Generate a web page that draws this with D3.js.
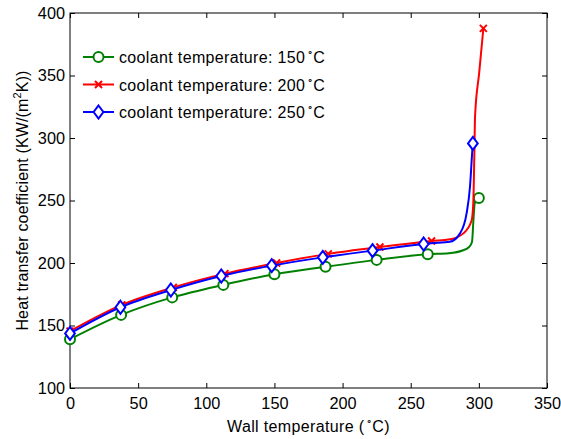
<!DOCTYPE html>
<html>
<head>
<meta charset="utf-8">
<script src="https://cdn.jsdelivr.net/npm/d3@7"></script>
<style>
  body { margin: 0; background: #fff; }
  svg { display: block; font-family: "Liberation Sans", Arial, Helvetica, sans-serif; }
</style>
</head>
<body>
<svg id="chart" width="561" height="439"></svg>
<script>
// ---- data ----
const xTicks = [0, 50, 100, 150, 200, 250, 300, 350];
const yTicks = [100, 150, 200, 250, 300, 350, 400];

const seriesNames = ["coolant temperature: 150", "coolant temperature: 200", "coolant temperature: 250"];
const seriesColors = ["#008000", "#ff0000", "#0000ff"];
const seriesMarkers = ["circle", "cross", "diamond"];

// line (curve) points
const greenLineX = [0, 37.5, 75, 112.5, 150, 187.5, 225, 262.5, 278, 288, 293, 295, 296, 297, 300];
const greenLineY = [139, 158.5, 172.5, 182.5, 191, 197, 202.5, 207, 207.8, 210, 213, 217, 234, 248, 252];
const redLineX = [0, 37.9, 75.8, 113.7, 151.6, 189.5, 227.4, 265.3, 279, 288.6, 294.7, 295.9, 296.7, 297.2, 300.25, 303.3];
const redLineY = [145.5, 166.5, 180.5, 191.5, 200, 207.3, 212.8, 217.6, 219, 223.7, 234, 247.7, 287.7, 317, 352.3, 387.7];
const blueLineX = [0, 37, 74, 111, 148, 185.5, 222, 259.5, 265, 278.8, 286.2, 291, 293.5, 295.2, 295.6];
const blueLineY = [143.7, 164.6, 178.4, 189.6, 197.9, 204.5, 209.9, 215.2, 215.8, 217, 223.7, 239.7, 261, 290, 295.7];

// marker points
const greenMarkX = [0, 37.5, 75, 112.5, 150, 187.5, 225, 262.5, 300];
const greenMarkY = [139, 158.5, 172.5, 182.5, 191, 197, 202.5, 207, 252];
const redMarkX = [0, 37.9, 75.8, 113.7, 151.6, 189.5, 227.4, 265.3, 303.3];
const redMarkY = [145.5, 166.5, 180.5, 191.5, 200, 207.3, 212.8, 217.6, 387.7];
const blueMarkX = [0, 37, 74, 111, 148, 185.5, 222, 259.5, 295.6];
const blueMarkY = [143.7, 164.6, 178.4, 189.6, 197.9, 204.5, 209.9, 215.2, 295.7];

// ---- layout ----
const svg = d3.select("#chart");
const m = { left: 70, top: 13, right: 547, bottom: 388 };
const x = d3.scaleLinear().domain([0, 350]).range([m.left, m.right]);
const y = d3.scaleLinear().domain([100, 400]).range([m.bottom, m.top]);
const FS = 16.3;

const zip = (xs, ys) => xs.map((v, i) => [v, ys[i]]);
const series = [
  { line: zip(greenLineX, greenLineY), marks: zip(greenMarkX, greenMarkY) },
  { line: zip(redLineX, redLineY), marks: zip(redMarkX, redMarkY) },
  { line: zip(blueLineX, blueLineY), marks: zip(blueMarkX, blueMarkY) }
];

// axes box
svg.append("rect")
  .attr("x", m.left).attr("y", m.top)
  .attr("width", m.right - m.left).attr("height", m.bottom - m.top)
  .attr("fill", "#fff").attr("stroke", "#000").attr("stroke-width", 1);

function styleAxis(g, showLabels) {
  g.select(".domain").remove();
  g.selectAll(".tick line").attr("stroke", "#000");
  g.selectAll(".tick text").attr("font-size", FS).attr("fill", "#000")
    .attr("font-family", "Liberation Sans, Arial, sans-serif");
  if (!showLabels) g.selectAll(".tick text").remove();
}

svg.append("g").attr("transform", `translate(0,${m.bottom})`)
  .call(d3.axisBottom(x).tickValues(xTicks).tickSize(-5).tickPadding(9))
  .call(g => styleAxis(g, true));
svg.append("g").attr("transform", `translate(0,${m.top})`)
  .call(d3.axisTop(x).tickValues(xTicks).tickSize(-5))
  .call(g => styleAxis(g, false));
svg.append("g").attr("transform", `translate(${m.left},0)`)
  .call(d3.axisLeft(y).tickValues(yTicks).tickSize(-5).tickPadding(5))
  .call(g => styleAxis(g, true));
svg.append("g").attr("transform", `translate(${m.right},0)`)
  .call(d3.axisRight(y).tickValues(yTicks).tickSize(-5))
  .call(g => styleAxis(g, false));

// lines
const lineGen = d3.line().x(d => x(d[0])).y(d => y(d[1])).curve(d3.curveMonotoneX);

function drawMarker(g, type, cx, cy, color) {
  if (type === "circle") {
    g.append("circle").attr("cx", cx).attr("cy", cy).attr("r", 5)
      .attr("fill", "#fff").attr("stroke", color).attr("stroke-width", 2);
  } else if (type === "diamond") {
    const s = 6.5;
    g.append("path")
      .attr("d", `M${cx},${cy - s}L${cx + s * 0.75},${cy}L${cx},${cy + s}L${cx - s * 0.75},${cy}Z`)
      .attr("fill", "#fff").attr("stroke", color).attr("stroke-width", 2);
  } else {
    const s = 3.5;
    g.append("path")
      .attr("d", `M${cx - s},${cy - s}L${cx + s},${cy + s}M${cx - s},${cy + s}L${cx + s},${cy - s}`)
      .attr("fill", "none").attr("stroke", color).attr("stroke-width", 2);
  }
}

const plot = svg.append("g");
series.forEach((s, i) => {
  plot.append("path").datum(s.line)
    .attr("d", lineGen)
    .attr("fill", "none").attr("stroke", seriesColors[i]).attr("stroke-width", 2);
  const mg = plot.append("g");
  s.marks.forEach(p => drawMarker(mg, seriesMarkers[i], x(p[0]), y(p[1]), seriesColors[i]));
});

// legend
const legRows = [57, 84.5, 112];
seriesNames.forEach((name, i) => {
  const ly = legRows[i];
  svg.append("line").attr("x1", 83).attr("x2", 114).attr("y1", ly).attr("y2", ly)
    .attr("stroke", seriesColors[i]).attr("stroke-width", 2);
  drawMarker(svg.append("g"), seriesMarkers[i], 98.5, ly, seriesColors[i]);
  const t = svg.append("text").attr("x", 119).attr("y", ly + 6)
    .attr("font-size", 16).attr("letter-spacing", 0.35).attr("fill", "#000");
  t.append("tspan").text(name);
  t.append("tspan").attr("font-size", 10).attr("dy", -8).attr("dx", 1.5).text("\u2218");
  t.append("tspan").attr("dy", 8).text("C");
});

// x-axis title
const xt = svg.append("text").attr("x", (m.left + m.right) / 2).attr("y", 432)
  .attr("text-anchor", "middle").attr("font-size", 16).attr("letter-spacing", 0.35).attr("fill", "#000");
xt.append("tspan").text("Wall temperature (");
xt.append("tspan").attr("font-size", 10).attr("dy", -8).attr("dx", 1.5).text("\u2218");
xt.append("tspan").attr("dy", 8).text("C)");

// y-axis title
const yt = svg.append("text")
  .attr("transform", `translate(28,${(m.top + m.bottom) / 2}) rotate(-90)`)
  .attr("text-anchor", "middle").attr("font-size", 16).attr("letter-spacing", 0.15).attr("fill", "#000");
yt.append("tspan").text("Heat transfer coefficient (KW/(m");
yt.append("tspan").attr("font-size", 11).attr("dy", -7).text("2");
yt.append("tspan").attr("dy", 7).text("K))");
</script>
</body>
</html>
